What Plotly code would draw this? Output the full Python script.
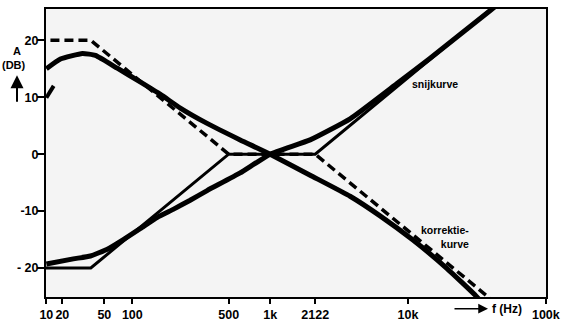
import plotly.graph_objects as go

# ---- data ----
# korrektiekurve (thick, falling curve)
korr_f = [23.8, 30.1, 43.5, 54, 77.8, 114, 160, 223, 349, 606, 1000, 1950, 3800, 6270, 10870, 19200, 31100, 34400]
korr_db = [15.0, 16.7, 17.7, 17.35, 15.1, 12.7, 10.5, 8.1, 5.4, 2.5, 0, -3.7, -7.4, -10.85, -15.1, -20.1, -24.9, -26.1]

# snijkurve (thick, rising curve)
snij_f = [23.8, 37.3, 49.7, 65.9, 86.1, 114, 152, 198, 263, 349, 606, 1000, 1950, 3800, 8320, 14400, 39300, 46400]
snij_db = [-19.3, -18.4, -17.9, -16.7, -15.0, -13.1, -11.1, -9.7, -8.1, -6.4, -3.3, 0, 2.5, 6.2, 12.4, 16.8, 25.2, 26.6]

# asymptotes
snij_asym_f = [10, 50, 500, 2122, 40000]
snij_asym_db = [-20, -20, 0, 0, 25.5]
korr_asym_f = [10, 50, 500, 2122, 40000]
korr_asym_db = [20, 20, 0, 0, -25.5]

# short fragment at left edge
frag_f = [23.8, 26.9]
frag_db = [9.9, 12.0]

# ticks
x_tick_vals = [23.8, 31.1, 62.7, 100, 500, 1000, 2122, 10000, 100000]
x_tick_text = ["10", "20", "50", "100", "500", "1k", "2122", "10k", "100k"]
y_tick_vals = [20, 10, 0, -10, -20]
y_tick_text = ["20", "10", "0", "-10", "- 20"]

FONT = "Liberation Sans"

fig = go.Figure()
fig.add_trace(go.Scatter(x=korr_asym_f, y=korr_asym_db, mode="lines",
                         line=dict(color="black", width=3.5, dash="9px,5px")))
fig.add_trace(go.Scatter(x=snij_asym_f, y=snij_asym_db, mode="lines",
                         line=dict(color="black", width=3)))
fig.add_trace(go.Scatter(x=korr_f, y=korr_db, mode="lines",
                         line=dict(color="black", width=5, shape="spline", smoothing=0.4)))
fig.add_trace(go.Scatter(x=snij_f, y=snij_db, mode="lines",
                         line=dict(color="black", width=5, shape="spline", smoothing=0.4)))
fig.add_trace(go.Scatter(x=frag_f, y=frag_db, mode="lines",
                         line=dict(color="black", width=4)))

fig.update_layout(
    width=567, height=329,
    margin=dict(l=46, r=21, t=7, b=26),
    paper_bgcolor="white", plot_bgcolor="#f4f4f4",
    showlegend=False,
    font=dict(family=FONT, size=12.5, color="black"),
    xaxis=dict(type="log", range=[1.374, 5.001], showgrid=False, zeroline=False,
               showline=True, linecolor="black", linewidth=2, mirror=True,
               ticks="outside", ticklen=5, tickwidth=1.5, tickcolor="black",
               tickvals=x_tick_vals, ticktext=x_tick_text,
               tickfont=dict(family=FONT, size=12.5, color="black", weight="bold")),
    yaxis=dict(range=[-25.1, 25.5], showgrid=False, zeroline=False,
               showline=True, linecolor="black", linewidth=2, mirror=True,
               ticks="outside", ticklen=7, tickwidth=1.5, tickcolor="black",
               tickvals=y_tick_vals, ticktext=y_tick_text, ticklabelstandoff=-4,
               tickfont=dict(family=FONT, size=12.5, color="black", weight="bold")),
)

ann_font = dict(family=FONT, size=10.5, color="black", weight="bold")
fig.add_annotation(x=4.196, y=12.4, xref="x", yref="y", text="snijkurve",
                   showarrow=False, xanchor="center", yanchor="middle", font=ann_font)
fig.add_annotation(x=4.457, y=-14.6, xref="x", yref="y", text="korrektie-<br>kurve",
                   showarrow=False, xanchor="right", yanchor="middle", align="right",
                   font=ann_font)

# y-axis title with upward arrow
lab_font = dict(family=FONT, size=11, color="black", weight="bold")
fig.add_annotation(x=-0.058, y=(303 - 50.5) / 296, xref="paper", yref="paper",
                   text="A", showarrow=False, xanchor="center", yanchor="middle", font=lab_font)
fig.add_annotation(x=-0.065, y=(303 - 65) / 296, xref="paper", yref="paper",
                   text="(DB)", showarrow=False, xanchor="center", yanchor="middle", font=lab_font)
fig.add_annotation(x=-0.058, y=(303 - 75) / 296, xref="paper", yref="paper",
                   text="", showarrow=True, ax=0, ay=28, axref="pixel", ayref="pixel",
                   arrowhead=2, arrowsize=1.3, arrowwidth=2, arrowcolor="black")

# x-axis title with right arrow
fig.add_annotation(x=(488 - 46) / 500, y=(303 - 315) / 296, xref="paper", yref="paper",
                   text="", showarrow=True, ax=-35, ay=0, axref="pixel", ayref="pixel",
                   arrowhead=2, arrowsize=1.3, arrowwidth=1.5, arrowcolor="black")
fig.add_annotation(x=(507 - 46) / 500, y=(303 - 315) / 296, xref="paper", yref="paper",
                   text="f (Hz)", showarrow=False, xanchor="center", yanchor="middle",
                   font=dict(family=FONT, size=12, color="black", weight="bold"))

fig.write_html("out.html")
